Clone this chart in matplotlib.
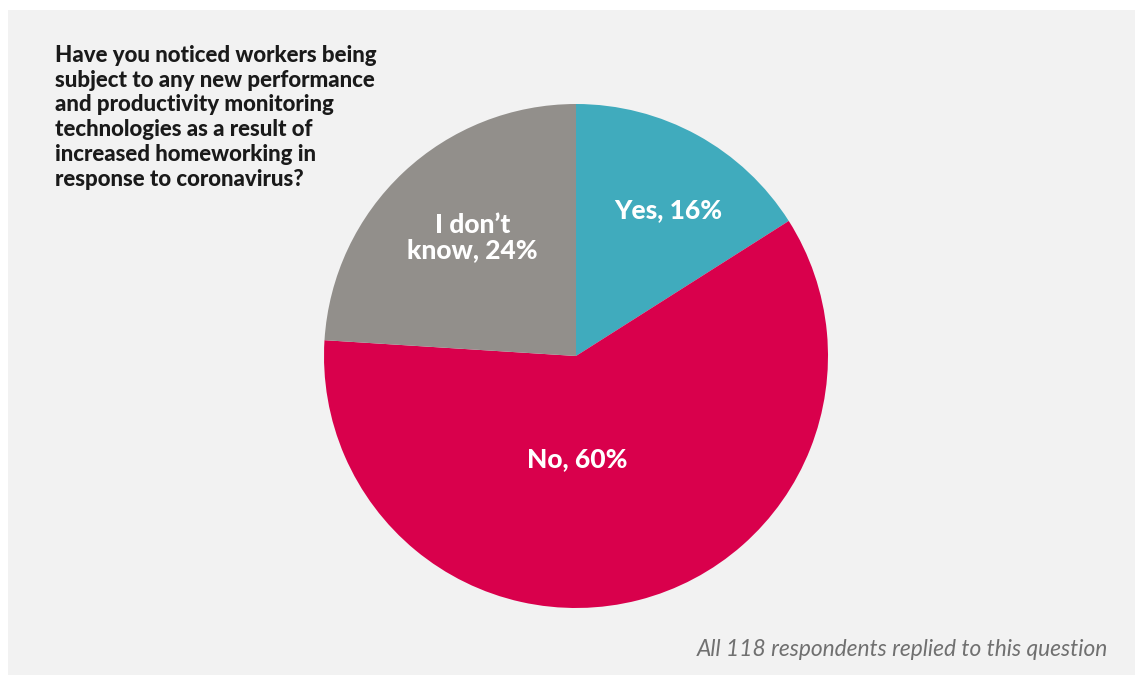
import matplotlib
matplotlib.use("Agg")
import matplotlib.pyplot as plt
from matplotlib.patches import Rectangle

# Survey answers
answers = ["Yes", "No", "I don\u2019t\nknow"]
shares = [16, 60, 24]
colors = ["#40abbd", "#d9004c", "#928f8b"]

question = ("Have you noticed workers being\n"
            "subject to any new performance\n"
            "and productivity monitoring\n"
            "technologies as a result of\n"
            "increased homeworking in\n"
            "response to coronavirus?")
footnote = "All 118 respondents replied to this question"

W, H = 1135, 675
fig = plt.figure(figsize=(W / 100, H / 100), dpi=100)
fig.patch.set_facecolor("white")
ax = fig.add_axes([0, 0, 1, 1])

# light grey panel
ax.add_patch(Rectangle((8, 0), W - 8, H - 10, facecolor="#f2f2f2",
                       edgecolor="none", zorder=0))

cx, cy, r = 576, H - 356, 252
wedges, _ = ax.pie(shares, colors=colors, startangle=90, counterclock=False,
                   center=(cx, cy), radius=r, frame=True,
                   wedgeprops=dict(linewidth=0))
ax.set_xlim(0, W)
ax.set_ylim(0, H)
ax.set_aspect("equal")
ax.axis("off")

# label anchor offsets relative to pie centre (fractions of radius)
label_offsets = [(0.365, 0.58), (0.005, -0.41), (-0.41, 0.47)]
for name, val, (dx, dy) in zip(answers, shares, label_offsets):
    ax.text(cx + dx * r, cy + dy * r, f"{name}, {val}%", ha="center",
            va="center", color="white", fontsize=19, fontweight="black",
            family="Lato", linespacing=1.1, zorder=5)

ax.text(55, H - 45, question, ha="left", va="top", fontsize=16,
        fontweight="black", family="Lato", color="#1a1a1a",
        linespacing=1.22, zorder=5)

ax.text(1108, H - 650, footnote, ha="right", va="center", fontsize=16.4,
        style="italic", fontweight="normal", family="Lato", color="#707070",
        zorder=5)

fig.savefig("out.png", dpi=100, facecolor=fig.get_facecolor())
